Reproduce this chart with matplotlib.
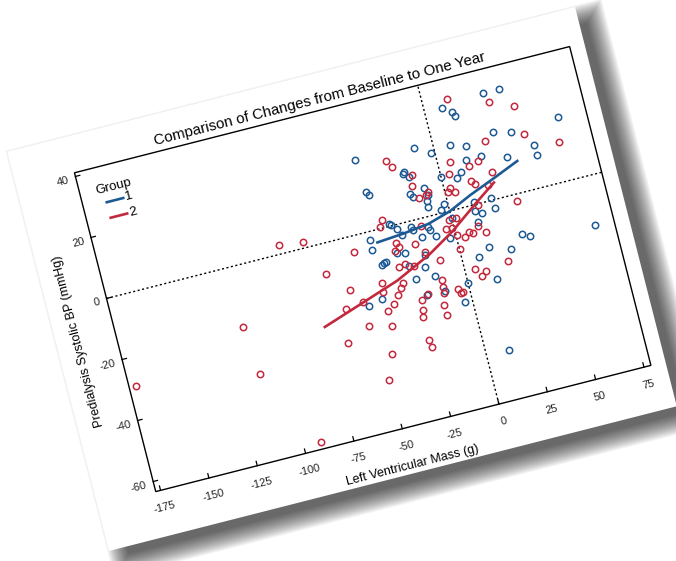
import matplotlib
matplotlib.use("Agg")
import matplotlib.pyplot as plt
from matplotlib import font_manager
from matplotlib.patches import Rectangle
from matplotlib.transforms import Affine2D, blended_transform_factory

# ==================== data ====================
group1_x = [-39.6, -38.4, -37.4, -42.2, -42.7, -51.1, -43.7, -39.4, -38.4, -37.0,
            -30.9, -30.1, -27.7, -26.1, -27.1, -30.6, -17.1, -18.1, -15.3, -17.2,
            -16.1, -21.0, -20.1, -9.4, -24.7, -16.9, -9.4, -17.3, -18.8, -21.5,
            -9.6, -10.2, -8.4, -12.6, -11.9, -2.1, -15.0, -9.7, 8.9, -2.0,
            0.0, -4.0, -12.4, 8.1, 13.3, 14.4, -3.0, 0.3, 7.4, 10.5,
            15.9, 14.3, -3.9, 0.0, 12.8, 12.4, 12.6, 8.6, 22.2, 30.7,
            15.4, 14.7, 21.8, 30.7, 22.3, 14.6, 39.2, 34.5, 11.5, 39.3,
            25.0, 32.3, 35.8, 49.0, 49.4, 64.5, 68.7, -26.6]
group1_y = [23.0, 12.4, 11.4, -2.6, -6.0, -22.9, -21.7, -11.2, -10.8, -10.7,
            0.6, 0.3, -1.5, -3.7, -9.3, -8.8, 15.7, 15.0, 13.7, 8.4,
            7.2, -2.0, -3.1, 22.1, -18.3, -5.8, 9.1, -11.7, -15.3, -24.1,
            4.8, 3.1, 6.5, -3.3, -4.3, 19.2, -19.0, -6.7, 32.2, 2.5,
            11.2, 0.9, -24.3, 20.2, 30.4, 28.7, -8.3, -2.2, 9.6, 11.1,
            18.9, 14.5, -29.1, -23.5, 1.0, -2.1, -5.5, -16.6, 14.4, 33.7,
            -3.2, -14.2, 0.6, 20.9, -2.5, -24.5, 33.7, 12.1, -47.4, 19.5,
            -16.4, -12.6, -13.9, 13.7, 10.3, 20.5, -15.7, -13.6]

group2_x = [-173.9, -114.8, -112.1, -87.1, -75.2, -90.9, -68.0, -62.5, -65.5, -58.4,
            -51.7, -53.6, -53.6, -36.0, -33.8, -41.9, -42.3, -24.7, -42.3, -50.3,
            -45.7, -42.3, -22.5, -38.7, -31.4, -29.9, -35.8, -29.1, -33.1, -31.4,
            -28.4, -31.7, -13.9, -15.2, -24.0, -20.9, -13.1, -15.9, -24.6, -25.4,
            -26.3, -17.1, -9.4, -8.2, -20.7, -26.0, -25.4, -10.8, -12.4, -12.7,
            -13.1, -14.3, -14.3, -4.1, 12.7, 4.4, 6.4, 1.4, 3.0, 5.0,
            -1.6, -1.2, 0.7, 2.2, -5.4, -4.7, -3.5, 0.2, 4.5, 6.7,
            8.7, 15.0, 14.1, 15.8, 19.8, 14.4, 12.1, 5.1, 7.6, 10.4,
            14.9, 25.7, 32.7, 25.3, 21.6, 44.4, 34.1, 22.4, 45.6, 61.7]
group2_y = [-29.2, -19.4, -35.2, 2.8, 1.9, -61.1, -9.6, -21.9, -32.7, -16.6,
            -5.1, -21.3, -29.0, 0.6, 2.6, -16.7, -19.8, 20.3, -25.9, -47.4,
            -39.4, -30.9, 18.0, -24.2, -7.9, -5.8, -21.9, -7.2, -19.8, -18.4,
            -12.7, -13.1, 13.9, 10.6, -14.0, -7.3, 6.3, -2.2, -25.2, -28.2,
            -30.5, -10.7, 6.7, 7.5, -23.9, -38.1, -40.5, -14.3, -20.6, -22.9,
            -24.8, -28.5, -31.8, -5.4, 34.8, 11.5, 14.9, 5.9, 7.1, 5.3,
            -2.6, -5.5, -8.0, -2.5, -24.7, -26.2, -25.9, -12.6, -9.1, -8.0,
            -8.6, 12.4, 7.6, 6.2, 13.3, -0.5, -6.8, -19.8, -22.4, -21.4,
            -9.3, 18.9, 30.6, 8.6, 5.0, 27.3, -2.1, -19.9, 18.0, 12.8]

fit1_x = [-39, -25, -12, 0, 12, 25, 39]
fit1_y = [-4.0, -3.3, -2.3, -0.1, 3.3, 6.5, 10.1]
fit2_x = [-75, -53, -34, -15, -1, 14, 25]
fit2_y = [-25.9, -21.3, -17.3, -11.7, -6.4, 0.5, 5.3]

x_ticks = [-175, -150, -125, -100, -75, -50, -25, 0, 25, 50, 75]
y_ticks = [-60, -40, -20, 0, 20, 40]
x_range = (-177.5, 78.6)
y_range = (-63.3, 41.2)
group_labels = ["1", "2"]

TITLE = "Comparison of Changes from Baseline to One Year"
XLABEL = "Left Ventricular Mass (g)"
YLABEL = "Predialysis Systolic BP (mmHg)"

# ==================== layout ====================
W, H, DPI = 676, 561, 100
ANGLE = 14.3               # tilt of the sheet
CX, CY = 342, 282          # rotation centre, display px
PAPER = (49, 76, 586, 412)  # sheet before tilt, display px
AX_RECT = (109, 122, 511, 329)
BLUE = "#1d5a94"
RED = "#c3283d"

names = {f.name for f in font_manager.fontManager.ttflist}
FONT = "Liberation Sans Narrow" if "Liberation Sans Narrow" in names else "Liberation Sans"
plt.rcParams["font.family"] = [FONT, "DejaVu Sans"]

fig = plt.figure(figsize=(W / DPI, H / DPI), dpi=DPI)
fig.patch.set_facecolor("white")
rot = Affine2D().rotate_deg_around(CX, CY, ANGLE)

# shadow + sheet
px, py, pw, ph = PAPER
for k in range(16):
    pad = -5 + k * 1.3
    fig.add_artist(Rectangle((px + 13 - pad, py - 13 - pad), pw + 2 * pad, ph + 2 * pad,
                             transform=rot, facecolor="black", edgecolor="none",
                             alpha=0.052, zorder=-10))
fig.add_artist(Rectangle((px, py), pw, ph, transform=rot, facecolor="white",
                         edgecolor="none", zorder=-5))

ax = fig.add_axes([AX_RECT[0] / W, AX_RECT[1] / H, AX_RECT[2] / W, AX_RECT[3] / H])
ax.set_xlim(*x_range)
ax.set_ylim(*y_range)
ax.set_axis_off()

data_t = ax.transData + rot
axes_t = ax.transAxes + rot
xblend = blended_transform_factory(ax.transData, ax.transAxes)
yblend = blended_transform_factory(ax.transAxes, ax.transData)


def shifted(base, dx, dy):
    return base + Affine2D().translate(dx, dy) + rot


# reference lines at zero
ax.plot([0, 1], [0, 0], transform=yblend + rot, color="black", lw=1.0,
        dashes=(1.5, 1.8), clip_on=False, zorder=1)
ax.plot([0, 0], [0, 1], transform=xblend + rot, color="black", lw=1.0,
        dashes=(1.5, 1.8), clip_on=False, zorder=1)

# points
ax.plot(group1_x, group1_y, "o", mfc="none", mec=BLUE, mew=1.1, ms=4.6,
        transform=data_t, clip_on=False, zorder=2)
ax.plot(group2_x, group2_y, "o", mfc="none", mec=RED, mew=1.1, ms=4.6,
        transform=data_t, clip_on=False, zorder=2)

# smoothed fits
ax.plot(fit1_x, fit1_y, color=BLUE, lw=1.9, transform=data_t, clip_on=False, zorder=3)
ax.plot(fit2_x, fit2_y, color=RED, lw=1.9, transform=data_t, clip_on=False, zorder=3)

# frame
ax.add_patch(Rectangle((0, 0), 1, 1, transform=axes_t, fill=False, lw=1.0,
                       edgecolor="black", clip_on=False, zorder=4))

# ticks (inward) and labels
TICK = 4.5
for v in x_ticks:
    ax.plot([v, v], [0, TICK / AX_RECT[3]], transform=xblend + rot, color="black",
            lw=0.9, clip_on=False)
    ax.text(v, 0, str(v), transform=shifted(xblend, 0, -18), rotation=ANGLE,
            rotation_mode="anchor", ha="center", va="center", fontsize=8, color="#222222")
for v in y_ticks:
    ax.plot([0, TICK / AX_RECT[2]], [v, v], transform=yblend + rot, color="black",
            lw=0.9, clip_on=False)
    ax.text(0, v, str(v), transform=shifted(yblend, -7, -1.5), rotation=ANGLE,
            rotation_mode="anchor", ha="right", va="center", fontsize=8, color="#222222")

ax.text(0.5, 1, TITLE, transform=shifted(ax.transAxes, 0, 11), rotation=ANGLE,
        rotation_mode="anchor", ha="center", va="center", fontsize=10.8)
ax.text(0.5, 0, XLABEL, transform=shifted(ax.transAxes, 0, -38), rotation=ANGLE,
        rotation_mode="anchor", ha="center", va="center", fontsize=9)
ax.text(0, 0.5, YLABEL, transform=shifted(ax.transAxes, -37.5, 0), rotation=90 + ANGLE,
        rotation_mode="anchor", ha="center", va="center", fontsize=9)

# legend, drawn by hand in px from the top-left corner of the plot box
leg_t = Affine2D().translate(AX_RECT[0], AX_RECT[1] + AX_RECT[3]) + rot
ax.text(34.7, -23, "Group", transform=leg_t, rotation=ANGLE, rotation_mode="anchor",
        ha="center", va="center", fontsize=9.5)
for row, (lab, col) in enumerate(zip(group_labels, [BLUE, RED])):
    yy = -36.5 - 16 * row
    ax.plot([24, 41], [yy, yy], transform=leg_t, color=col, lw=1.9, clip_on=False)
    ax.text(43, yy, lab, transform=leg_t, rotation=ANGLE, rotation_mode="anchor",
            ha="left", va="center", fontsize=9.5)

fig.savefig("out.png", dpi=DPI)
